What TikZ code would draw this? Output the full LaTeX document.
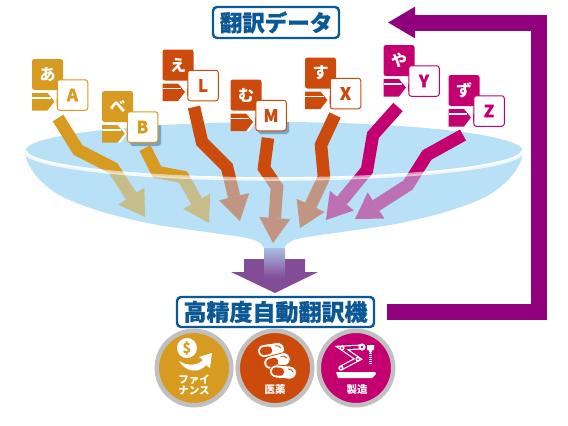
\documentclass[tikz,border=0pt]{standalone}
\usepackage{fontspec}
\setmainfont{Noto Sans CJK JP}
\newfontfamily\heavyfont[BoldFeatures={FakeBold=.6}]{Noto Sans CJK JP}
\usetikzlibrary{arrows.meta}
\definecolor{goldc}{RGB}{214,155,32}
\definecolor{orangec}{RGB}{204,74,12}
\definecolor{magentac}{RGB}{196,0,112}
\definecolor{bluec}{RGB}{10,88,150}
\definecolor{funnelc}{RGB}{184,224,246}
\definecolor{backc}{RGB}{145,0,125}
\definecolor{ringc}{RGB}{192,192,192}
\definecolor{shadowc}{RGB}{120,165,195}
\definecolor{downc}{RGB}{130,76,150}
\definecolor{stemc}{RGB}{170,190,228}
\tikzset{
  kanabox/.style={fill=#1,text=white,rounded corners=2.5pt,minimum size=31pt,inner sep=0pt,font=\bfseries\fontsize{16}{16}\selectfont},
  latinbox/.style={fill=white,draw=#1,text=#1,line width=1pt,rounded corners=2.5pt,minimum size=30.5pt,inner sep=0pt,font=\heavyfont\bfseries\fontsize{17}{17}\selectfont},
  flow/.style={draw=#1,line width=12.5pt,-{Triangle[length=25pt,width=31pt,line width=0pt]}},
  titlebox/.style={draw=bluec,fill=white,text=bluec,line width=2.4pt,rounded corners=4pt,inner sep=0pt,font=\heavyfont\bfseries\fontsize{#1}{#1}\selectfont},
  ring/.style={circle,fill=#1,draw=ringc,line width=4.5pt,minimum size=74.5pt,inner sep=0pt},
  ringtext/.style={text=white,align=center,inner sep=0pt,font=\bfseries\fontsize{10.5}{11}\selectfont},
  robotarm/.style={draw=white,line width=5pt,line cap=round},
  robotcore/.style={draw=magentac,line width=2.6pt,line cap=round},
}
\newcommand{\langcard}[6]{
  \begin{scope}[shift={(#2,#3)}]
    \fill[#6] (-15.5,18.5) -- (0,18.5) -- (7,27) -- (0,36) -- (-15.5,36) -- cycle;
    \draw[white,line width=1.5pt] (-15.5,23.3) -- (3,23.3);
    \draw[white,line width=1.8pt] (2,18.5) -- (9,27) -- (2,36);
    \fill[#6] (9,23) -- (13,27) -- (9,31) -- cycle;
    \node[kanabox=#6] (kana#1) at (0,0) {#4};
    \node[latinbox=#6] (#1) at (25,20.5) {#5};
  \end{scope}
}
\newcommand{\capsule}[3]{
  \begin{scope}[shift={(#1,#2)},rotate=#3]
    \fill[white,draw=orangec,line width=.8pt,rounded corners=6.5pt] (-13.5,-6.5) rectangle (13.5,6.5);
    \fill[orangec,rounded corners=3.5pt] (-11,-4) rectangle (1,4);
    \draw[orangec,line width=.9pt,line cap=round] (5,-3.5) .. controls (8,-3.5) and (9.5,-2.5) .. (10,-.5);
  \end{scope}
}
\def\funnelbody{plot[smooth,tension=.55] coordinates {(25,151)(28,163)(40,180)(63,197)(103,212)(153,224)(207,232)(247,238)(260,243)(265,250)}
  -- plot[smooth,tension=.55] coordinates {(283,250)(288,243)(301,238)(341,232)(395,224)(445,212)(485,197)(508,180)(520,163)(523,151)}
  arc[start angle=0,end angle=180,x radius=249,y radius=28] -- cycle}
\begin{document}
\begin{tikzpicture}[x=1pt,y=-1pt]
\useasboundingbox (0,0) rectangle (568,426);
\fill[funnelc] (274,151) ellipse [x radius=249,y radius=29];
\fill[funnelc] \funnelbody;
\draw[white,line width=3.6pt] (523,151) arc[start angle=0,end angle=180,x radius=249,y radius=28];
\begin{scope}
\clip (274,151) ellipse [x radius=249,y radius=29];
\fill[shadowc,rounded corners=3pt] (130,114) rectangle (161,146);
\fill[shadowc,rounded corners=3pt] (258,102) rectangle (289,134);
\end{scope}
\langcard{A}{47.5}{74.5}{あ}{A}{goldc}
\langcard{B}{117.5}{106.5}{べ}{B}{goldc}
\langcard{L}{178}{65}{え}{L}{orangec}
\langcard{M}{246}{95}{む}{M}{orangec}
\langcard{X}{320.5}{73}{す}{X}{orangec}
\langcard{Y}{399}{60.5}{や}{Y}{magentac}
\langcard{Z}{464}{90.5}{ず}{Z}{magentac}
\coordinate (startA) at (58,118);
\coordinate (startB) at (145,148);
\coordinate (startL) at (194,107);
\coordinate (startM) at (268,138);
\coordinate (startX) at (335,115);
\coordinate (startY) at (398,107);
\coordinate (startZ) at (463,135);
\draw[flow=goldc] (startA) -- (78,150) -- (113,168) -- (145,217);
\draw[flow=goldc] (startB) -- (157,172) -- (183,177) -- (209,223);
\draw[flow=orangec] (startL) -- (202,142) -- (227,167) -- (240,221);
\draw[flow=orangec] (startM) -- (264,168) -- (277,187) -- (273,243);
\draw[flow=orangec] (startX) -- (321,145) -- (324,177) -- (300,228);
\draw[flow=magentac] (startY) -- (373,135) -- (367,170) -- (326,220);
\draw[flow=magentac] (startZ) -- (427,155) -- (408,185) -- (355,219);
\fill[funnelc,opacity=.5] \funnelbody;
\draw[white,opacity=.55,line width=3.6pt] (523,151) arc[start angle=0,end angle=180,x radius=249,y radius=28];
\fill[downc] (231,272) -- (244,272) -- (244,259) -- (305,259) -- (305,272) -- (318,272) -- (275,293) -- cycle;
\path[top color=stemc,bottom color=downc] (264,248) rectangle (285,278);
\node[titlebox=22.5,minimum width=126pt,minimum height=31pt] (data) at (276,22.5) {翻訳データ};
\node[titlebox=23,minimum width=197pt,minimum height=30pt] (engine) at (275.5,312) {高精度自動翻訳機};
\coordinate (backturnA) at (539,312);
\coordinate (backturnB) at (539,22.5);
\draw[draw=backc,line width=16pt,-{Triangle[length=27pt,width=32pt,line width=0pt]},shorten <=12pt,shorten >=48pt] (engine.east) -- (backturnA) -- (backturnB) -- (data.east);
\node[ring=goldc] (finance) at (194,368) {};
\node[ring=orangec] (pharma) at (275,368) {};
\node[ring=magentac] (maker) at (356,368) {};
\fill[white] (187,348) circle (10);
\node[text=goldc,inner sep=0pt,font=\bfseries\fontsize{14}{14}\selectfont] (dollar) at (187,348) {\$};
\fill[white] (179,361) .. controls (186,373) and (200,373) .. (206,365) -- (210,368) -- (212,353) -- (199,357) -- (203,360) .. controls (197,366) and (187,366) .. (179,361) -- cycle;
\node[ringtext] (financetext) at (194,385.5) {ファイ\\ナンス};
\capsule{271}{350}{8}
\capsule{277}{361}{15}
\capsule{283}{372}{-5}
\node[ringtext] (pharmatext) at (275,390) {医薬};
\fill[white] (336,372) -- (375,372) -- (376,374) -- (372,378) -- (338,378) -- cycle;
\draw[robotarm] (341,368) -- (358,359) -- (342,348) -- (362,347);
\draw[robotcore] (341,368) -- (358,359) -- (342,348) -- (362,347);
\fill[white] (341,368) circle (2.6) (358,359) circle (2.6) (342,348) circle (2.6);
\fill[magentac] (341,368) circle (1) (358,359) circle (1) (342,348) circle (1);
\fill[white] (362,347) circle (3.6) (367,345) rectangle (374,350) (368.5,350) -- (372.5,350) -- (371,353) -- (370,353) -- cycle;
\fill[magentac] (362,347) circle (1.3);
\draw[white,line width=2.4pt,dash pattern=on 1.3pt off .7pt] (370.5,353) -- (370.5,365);
\node[ringtext] (makertext) at (357,390) {製造};
\end{tikzpicture}
\end{document}
